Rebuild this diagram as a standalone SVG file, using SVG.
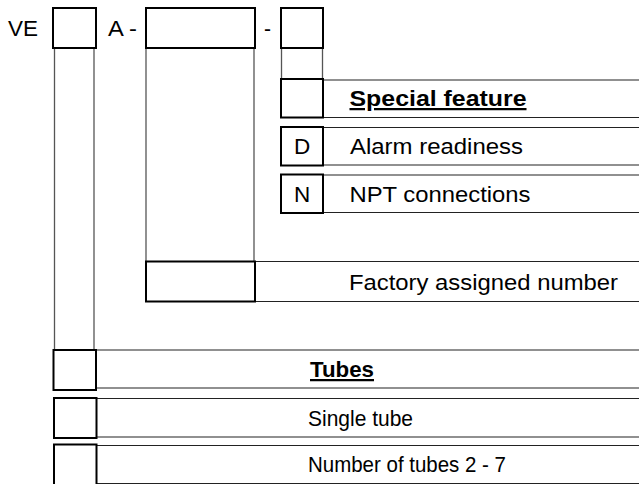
<svg xmlns="http://www.w3.org/2000/svg" width="639" height="484" viewBox="0 0 639 484">
<style>
.box{fill:#fff;stroke:#000;stroke-width:2}
.ln{stroke:#222;stroke-width:1.2;fill:none}
.vl{stroke:#555;stroke-width:1.3;fill:none}
text{font-family:"Liberation Sans",Arial,sans-serif;font-size:22.5px;fill:#000}
.b{font-weight:bold;text-decoration:underline}
.c{text-anchor:middle}
</style>
<rect width="639" height="484" fill="#fff"/>
<g id="connectors">
<line class="vl" x1="54.5" y1="48" x2="54.5" y2="350"/>
<line class="vl" x1="94" y1="48" x2="94" y2="350"/>
<line class="vl" x1="146" y1="48" x2="146" y2="261"/>
<line class="vl" x1="254" y1="48" x2="254" y2="261"/>
<line class="vl" x1="281.5" y1="48" x2="281.5" y2="79"/>
<line class="vl" x1="322.5" y1="48" x2="322.5" y2="79"/>
<line class="ln" x1="323" y1="80" x2="639" y2="80"/>
<line class="ln" x1="323" y1="117.5" x2="639" y2="117.5"/>
<line class="ln" x1="323" y1="127.5" x2="639" y2="127.5"/>
<line class="ln" x1="323" y1="165" x2="639" y2="165"/>
<line class="ln" x1="323" y1="175" x2="639" y2="175"/>
<line class="ln" x1="323" y1="212.5" x2="639" y2="212.5"/>
<line class="ln" x1="255" y1="261.5" x2="639" y2="261.5"/>
<line class="ln" x1="255" y1="301.5" x2="639" y2="301.5"/>
<line class="ln" x1="96" y1="350" x2="639" y2="350"/>
<line class="ln" x1="96" y1="388" x2="639" y2="388"/>
<line class="ln" x1="96" y1="398.5" x2="639" y2="398.5"/>
<line class="ln" x1="96" y1="437" x2="639" y2="437"/>
<line class="ln" x1="96" y1="445.5" x2="639" y2="445.5"/>
<line class="ln" x1="96" y1="483.5" x2="639" y2="483.5"/>
</g>
<g id="prefix-ve">
<text x="8" y="36" textLength="30" lengthAdjust="spacingAndGlyphs">VE</text>
<rect class="box" x="53" y="8" width="43" height="40"/>
</g>
<g id="prefix-a">
<text x="108" y="36" textLength="29" lengthAdjust="spacingAndGlyphs">A -</text>
<rect class="box" x="146" y="8" width="109" height="40"/>
</g>
<g id="suffix">
<text x="264" y="36" textLength="7" lengthAdjust="spacingAndGlyphs">-</text>
<rect class="box" x="281" y="8" width="42" height="40"/>
</g>
<g id="special-feature">
<rect class="box" x="281" y="79" width="42" height="38.5"/>
<text class="b" x="349.5" y="106" textLength="177" lengthAdjust="spacingAndGlyphs">Special feature</text>
</g>
<g id="alarm">
<rect class="box" x="281" y="127" width="42" height="38.5"/>
<text class="c" x="302" y="154">D</text>
<text x="350" y="154" textLength="173" lengthAdjust="spacingAndGlyphs">Alarm readiness</text>
</g>
<g id="npt">
<rect class="box" x="281" y="174.5" width="42" height="38.5"/>
<text class="c" x="302" y="202">N</text>
<text x="349.5" y="202" textLength="181" lengthAdjust="spacingAndGlyphs">NPT connections</text>
</g>
<g id="factory">
<rect class="box" x="146" y="261.5" width="109" height="40"/>
<text x="349" y="289.5" textLength="269" lengthAdjust="spacingAndGlyphs">Factory assigned number</text>
</g>
<g id="tubes">
<rect class="box" x="53.5" y="350" width="42.5" height="40"/>
<text class="b" x="310" y="377" textLength="64" lengthAdjust="spacingAndGlyphs">Tubes</text>
</g>
<g id="single-tube">
<rect class="box" x="54" y="398" width="42.5" height="40"/>
<text x="308" y="426" textLength="105" lengthAdjust="spacingAndGlyphs">Single tube</text>
</g>
<g id="multi-tube">
<rect class="box" x="54" y="444.5" width="42.5" height="42"/>
<text x="308" y="472" textLength="198" lengthAdjust="spacingAndGlyphs">Number of tubes 2 - 7</text>
</g>
</svg>
